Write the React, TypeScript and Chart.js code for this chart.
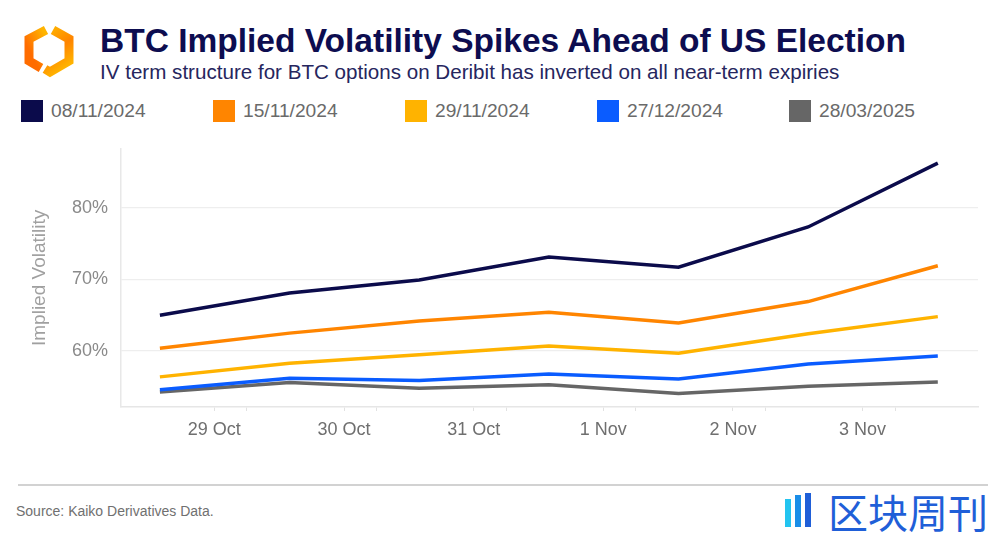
import React, { useEffect, useRef } from "react";
import { Chart, registerables } from "chart.js";

Chart.register(...registerables);

const seriesNames = ["08/11/2024", "15/11/2024", "29/11/2024", "27/12/2024", "28/03/2025"];
const seriesColors = ["#0b0b4b", "#ff8500", "#ffb300", "#0a5cff", "#666666"];
const pointIndex = [0, 1, 2, 3, 4, 5, 6];
const ivExp0811 = [65.0, 68.1, 69.9, 73.1, 71.7, 77.3, 86.2];
const ivExp1511 = [60.4, 62.5, 64.2, 65.4, 63.9, 66.9, 71.9];
const ivExp2911 = [56.4, 58.3, 59.5, 60.7, 59.7, 62.4, 64.8];
const ivExp2712 = [54.6, 56.2, 55.9, 56.8, 56.1, 58.2, 59.3];
const ivExp2803 = [54.3, 55.6, 54.8, 55.3, 54.1, 55.1, 55.7];
const seriesValues = [ivExp0811, ivExp1511, ivExp2911, ivExp2712, ivExp2803];
const xTickLabels = ["29 Oct", "30 Oct", "31 Oct", "1 Nov", "2 Nov", "3 Nov"];
const xTickOffset = 0.42;
const xMinorOffset = 0.67;
const yTickValues = [60, 70, 80];

const FONT = "'Liberation Sans', Arial, Helvetica, sans-serif";

function ChartCanvas() {
  const ref = useRef<HTMLCanvasElement>(null);
  useEffect(() => {
    if (!ref.current) return;
    const datasets = seriesNames.map((name, s) => ({
      label: name,
      data: seriesValues[s].map((v, i) => ({ x: pointIndex[i], y: v })),
      borderColor: seriesColors[s],
      backgroundColor: seriesColors[s],
      borderWidth: 3.5,
      pointRadius: 0,
      tension: 0,
      fill: false,
    }));
    const tickPositions: number[] = [];
    xTickLabels.forEach((_, k) => {
      tickPositions.push(k + xTickOffset);
      tickPositions.push(k + xMinorOffset);
    });
    const chart = new Chart(ref.current, {
      type: "line",
      data: { datasets },
      options: {
        animation: false,
        responsive: false,
        maintainAspectRatio: false,
        layout: { padding: { top: 13, right: 25, left: 0, bottom: 0 } },
        plugins: { legend: { display: false }, tooltip: { enabled: false } },
        scales: {
          x: {
            type: "linear",
            min: -0.3,
            max: 6.31,
            afterBuildTicks: (scale: any) => {
              scale.ticks = tickPositions.map((v) => ({ value: v }));
            },
            afterFit: (scale: any) => {
              scale.height = 63;
            },
            grid: {
              drawOnChartArea: false,
              drawTicks: true,
              tickLength: 4,
              color: "#e2e2e2",
            },
            border: { display: true, color: "#e6e6e6", width: 1.5 },
            ticks: {
              autoSkip: false,
              maxRotation: 0,
              padding: 8,
              color: "#6f6f6f",
              font: { family: FONT, size: 18 },
              callback: (_v: any, index: number) =>
                index % 2 === 0 ? xTickLabels[index / 2] : "",
            },
          },
          y: {
            min: 52.2,
            max: 88.2,
            afterBuildTicks: (scale: any) => {
              scale.ticks = yTickValues.map((v) => ({ value: v }));
            },
            afterFit: (scale: any) => {
              scale.width = 121;
            },
            grid: { color: "#eeeeee", drawTicks: false, lineWidth: 1.2 },
            border: { display: true, color: "#e8e8e8", width: 1.5 },
            ticks: {
              padding: 13,
              color: "#8a8a8a",
              font: { family: FONT, size: 18 },
              callback: (v: any) => `${v}%`,
            },
            title: {
              display: true,
              text: "Implied Volatility",
              color: "#a0a0a0",
              font: { family: FONT, size: 19 },
              padding: { top: 28, bottom: 0 },
            },
          },
        },
      },
    });
    return () => chart.destroy();
  }, []);
  return (
    <canvas
      ref={ref}
      width={1003}
      height={345}
      style={{ position: "absolute", left: 0, top: 125, width: 1003, height: 345 }}
    />
  );
}

function Logo() {
  return (
    <svg width={100} height={100} style={{ position: "absolute", left: 0, top: 0 }}>
      <defs>
        <linearGradient id="lg1" x1="0.8" y1="0" x2="0.2" y2="0.7">
          <stop offset="0" stopColor="#ffb400" />
          <stop offset="1" stopColor="#ff6c00" />
        </linearGradient>
        <linearGradient id="lg2" x1="0.2" y1="0" x2="0.6" y2="1">
          <stop offset="0" stopColor="#ffb000" />
          <stop offset="0.5" stopColor="#ff8400" />
          <stop offset="1" stopColor="#ffb400" />
        </linearGradient>
      </defs>
      <polyline
        points="46,30 29,39 29,61 41,68"
        fill="none"
        stroke="url(#lg1)"
        strokeWidth={9}
        strokeLinejoin="miter"
      />
      <polyline
        points="53,30 69,39 69,61 50,72 45,69"
        fill="none"
        stroke="url(#lg2)"
        strokeWidth={9}
        strokeLinejoin="miter"
      />
    </svg>
  );
}

export default function App() {
  return (
    <div
      style={{
        position: "fixed",
        left: 0,
        top: 0,
        width: 1003,
        height: 537,
        background: "#ffffff",
        overflow: "hidden",
        fontFamily: FONT,
      }}
    >
      <Logo />
      <div
        style={{
          position: "absolute",
          left: 100,
          top: 22,
          fontSize: 33.5,
          fontWeight: 700,
          color: "#0d0d50",
          whiteSpace: "nowrap",
          lineHeight: "38px",
        }}
      >
        BTC Implied Volatility Spikes Ahead of US Election
      </div>
      <div
        style={{
          position: "absolute",
          left: 100,
          top: 60,
          fontSize: 20.6,
          color: "#26265e",
          whiteSpace: "nowrap",
          lineHeight: "24px",
        }}
      >
        IV term structure for BTC options on Deribit has inverted on all near-term expiries
      </div>
      {seriesNames.map((name, i) => (
        <div
          key={name}
          style={{
            position: "absolute",
            left: 21 + i * 192,
            top: 100,
            height: 22,
            display: "flex",
            alignItems: "center",
            whiteSpace: "nowrap",
          }}
        >
          <div style={{ width: 22, height: 22, background: seriesColors[i] }} />
          <span style={{ marginLeft: 8, fontSize: 19.2, color: "#6a6a6a" }}>{name}</span>
        </div>
      ))}
      <ChartCanvas />
      <div
        style={{
          position: "absolute",
          left: 18,
          top: 484,
          width: 970,
          height: 2,
          background: "#d2d2d2",
        }}
      />
      <div
        style={{
          position: "absolute",
          left: 16,
          top: 503,
          fontSize: 14,
          color: "#707070",
          whiteSpace: "nowrap",
        }}
      >
        Source: Kaiko Derivatives Data.
      </div>
      <svg width={34} height={38} style={{ position: "absolute", left: 783, top: 493 }}>
        <rect x={2} y={6} width={6} height={28} fill="#22c4f0" />
        <rect x={12} y={2} width={6} height={32} fill="#1a8ee8" />
        <rect x={22} y={0} width={6} height={34} fill="#1f5fd8" />
      </svg>
      <div
        style={{
          position: "absolute",
          left: 828,
          top: 489,
          fontSize: 40,
          lineHeight: "44px",
          color: "#1f5fd8",
          fontFamily: "'Noto Sans CJK SC', sans-serif",
          whiteSpace: "nowrap",
        }}
      >
        区块周刊
      </div>
    </div>
  );
}
